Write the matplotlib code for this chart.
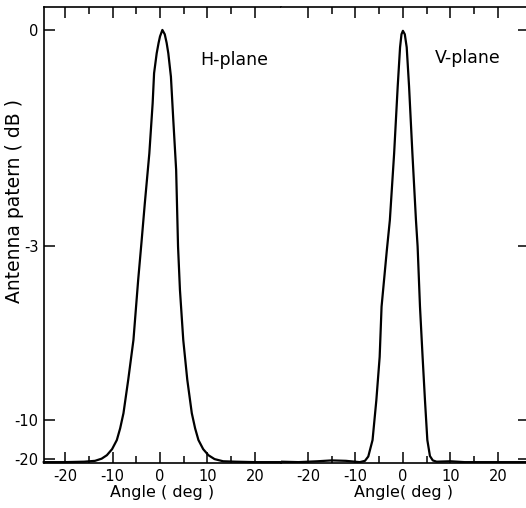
"""
Antenna pattern, H-plane and V-plane, recreated from a scanned figure.
Power is plotted on a linear scale and labelled in dB.
"""

import matplotlib
matplotlib.use("Agg")
import matplotlib.pyplot as plt
from matplotlib.ticker import FixedLocator

# ── Data (angle in deg, relative power, linear) ─────────────────────────────
h_angle = [-24.5, -20, -16, -13.7, -12.3, -11.2, -10.1, -9.1, -8.4, -7.7,
           -6.7, -5.6, -4.6, -3.9, -3.2, -2.25, -1.55, -1.25, -0.7, -0.3, 0,
           0.5, 1.0, 1.4, 1.75, 2.3, 2.8, 3.4, 3.8, 4.2, 4.9, 5.75, 6.7, 7.4,
           8.1, 9.1, 10.2, 11.5, 13.3, 16, 20, 25.5]
h_power = [0.002, 0.002, 0.003, 0.005, 0.010, 0.018, 0.032, 0.053, 0.080,
           0.115, 0.192, 0.284, 0.423, 0.510, 0.600, 0.715, 0.831, 0.900,
           0.946, 0.970, 0.985, 1.000, 0.990, 0.970, 0.946, 0.892, 0.792,
           0.677, 0.500, 0.400, 0.284, 0.192, 0.115, 0.080, 0.053, 0.032,
           0.018, 0.009, 0.004, 0.003, 0.002, 0.002]

v_angle = [-25.7, -22, -18, -15, -12, -9.1, -8.0, -7.3, -6.4, -5.6, -4.9,
           -4.5, -3.4, -2.75, -1.85, -1.1, -0.6, -0.3, 0, 0.4, 0.8, 1.3, 2.0,
           2.75, 3.1, 3.6, 4.15, 4.65, 5.15, 5.7, 6.3, 7.1, 10, 13, 18, 25.9]
v_power = [0.003, 0.002, 0.004, 0.006, 0.005, 0.002, 0.005, 0.015, 0.053,
           0.145, 0.245, 0.361, 0.490, 0.561, 0.715, 0.869, 0.960, 0.990,
           0.998, 0.990, 0.960, 0.869, 0.715, 0.561, 0.500, 0.361, 0.245,
           0.145, 0.053, 0.016, 0.006, 0.003, 0.004, 0.002, 0.002, 0.002]

db_ticks = [1.0, 0.5, 0.1, 0.01]
db_labels = ["0", "-3", "-10", "-20"]
major_angles = [-20, -10, 0, 10, 20]
minor_angles = [-15, -5, 5, 15]

plt.rcParams["font.family"] = "DejaVu Sans"
plt.rcParams["axes.unicode_minus"] = False

fig = plt.figure(figsize=(5.26, 5.08), dpi=100)
W, H = 526, 508
bottom = (H - 463) / H
height = 456 / H
ax1 = fig.add_axes([44 / W, bottom, 237 / W, height])
ax2 = fig.add_axes([281 / W, bottom, 245 / W, height])

ax1.plot(h_angle, h_power, color="black", lw=1.6, clip_on=False)
ax2.plot(v_angle, v_power, color="black", lw=1.6)

ax1.set_xlim(-24.45, 25.5)
ax2.set_xlim(-25.7, 25.95)

for ax in (ax1, ax2):
    ax.set_ylim(0, 1.053)
    ax.xaxis.set_major_locator(FixedLocator(major_angles))
    ax.xaxis.set_minor_locator(FixedLocator(minor_angles))
    ax.tick_params(axis="x", which="major", direction="in", top=True,
                   length=8, width=1.1, labelsize=10.5, pad=4)
    ax.tick_params(axis="x", which="minor", direction="in", top=True,
                   length=5, width=1.1)
    ax.set_yticks(db_ticks)
    for s in ax.spines.values():
        s.set_linewidth(1.2)

ax1.set_yticklabels(db_labels)
ax1.tick_params(axis="y", direction="in", length=8, width=1.1,
                labelsize=10.5, pad=4)
ax1.spines["right"].set_visible(False)

ax2.spines["left"].set_visible(False)
ax2.spines["right"].set_visible(False)
ax2.tick_params(axis="y", left=False, right=True, labelleft=False,
                direction="in", length=6, width=1.1)

ax1.set_xlabel("Angle ( deg )", fontsize=11.5, labelpad=1)
ax2.set_xlabel("Angle( deg )", fontsize=11.5, labelpad=1)

ax1.text(8.4, 0.93, "H-plane", fontsize=12.5, ha="left", va="center")
ax2.text(6.8, 0.935, "V-plane", fontsize=12.5, ha="left", va="center")

fig.text(15 / W, 1 - 201 / H, "Antenna patern ( dB )", rotation=90,
         fontsize=13.5, ha="center", va="center")

fig.savefig("out.png", dpi=100)
